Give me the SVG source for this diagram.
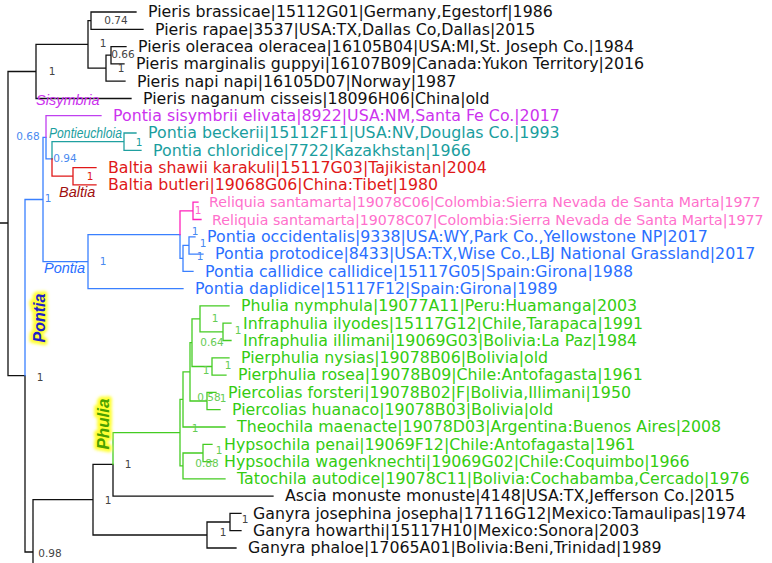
<svg xmlns="http://www.w3.org/2000/svg" width="772" height="563" viewBox="0 0 772 563">
<defs>
<filter id="glow" x="-30%" y="-30%" width="160%" height="160%"><feGaussianBlur stdDeviation="1.8"/></filter>
</defs>
<style>
.l{fill:none;stroke-width:1.3;stroke-linecap:square}
.k{stroke:#111}.b{stroke:#3a80ff}.m{stroke:#c040f0}.t{stroke:#20a0a0}.r{stroke:#e01818}.p{stroke:#ff22bb}.g{stroke:#44cc22}
.tx{font-family:"DejaVu Sans",Verdana,sans-serif;font-size:15.8px}
.rq{font-family:"DejaVu Sans",Verdana,sans-serif;font-size:14.2px;fill:#ff70cc}
.s{font-family:"DejaVu Sans",Verdana,sans-serif;font-size:10.5px;text-anchor:middle}
.cl{font-family:"Liberation Sans",Arial,sans-serif;font-style:italic}
.tk{fill:#111}.tb{fill:#2a6fff}.tm{fill:#cc33ee}.tt{fill:#1a9e9e}.tr{fill:#e01818}.tg{fill:#33cc11}
.sk{fill:#444}.sb{fill:#4a8af0}.sg{fill:#66cc55}.st{fill:#20a0a0}.sr{fill:#e01818}.sp{fill:#ff66cc}
.halo{stroke:#ffff30;stroke-width:6;stroke-linejoin:round;filter:url(#glow)}
</style>
<g id="connectors">
<path class="l k" d="M0 223H8M8 71.5V375.7M8 71.5H36M36 44.4V98.5M36 98.5H131M36 44.4H88M88 20.6V68.2M88 20.6H91M91 12V29.3M91 12H136M91 29.3H143M88 68.2H106M106 55.2V81.2M106 81.2H125M106 55.2H111M111 46.6V63.9M111 46.6H126M111 63.9H124M8 375.7H25M25 375.7V552M25 552H33M33 499.7V565M33 499.7H93M93 464.4V535M93 464.4H113M113 464.4V496.1M113 496.1H273M93 535H207M207 522V548M207 548H236M207 522H230M230 513.4V530.7M230 513.4H241M230 530.7H241"/>
<path class="l b" d="M25 199.5V375.7M25 199.5H43M43 137.3V261.6M43 137.3H46M46 137.3V158.9M46 158.9H52M43 261.6H88M88 234.6V288.6M88 288.6H183M88 234.6H180M180 234.6V258.4M180 258.4H183M183 245.4V271.4M183 271.4H193M183 245.4H189M189 236.8V254.1M189 236.8H195M189 254.1H203"/>
<path class="l m" d="M46 115.7V137.3M46 115.7H101"/>
<path class="l t" d="M52 141.6V158.9M52 141.6H124M124 133V150.3M124 133H136M124 150.3H141"/>
<path class="l r" d="M52 158.9V176.2M52 176.2H73M73 167.6V184.9M73 167.6H96M73 184.9H96"/>
<path class="l p" d="M180 210.8V234.6M180 210.8H193M193 202.2V219.5M193 202.2H198M193 219.5H201"/>
<path class="l g" d="M113 432.7V464.4M113 432.7H180M180 399.4V465.9M180 399.4H183M183 371.9V427M183 427H225M183 371.9H190M190 342.7V401M190 401H207M207 392.4V409.7M207 392.4H216M207 409.7H220M190 342.7H192M192 318.9V366.5M192 366.5H212M212 357.8V375.1M212 357.8H229M212 375.1H226M192 318.9H200M200 305.9V331.9M200 305.9H229M200 331.9H223M223 323.2V340.5M223 323.2H231M223 340.5H231M180 465.9H183M183 453V478.8M183 478.8H225M183 453H203M203 444.3V461.6M203 444.3H212M203 461.6H212"/>
</g>
<g id="clade-labels">
<text class="cl tm" x="36" y="105" font-size="14.5">Sisymbria</text>
<text class="cl tt" x="49" y="137.5" font-size="14.5" textLength="73" lengthAdjust="spacingAndGlyphs">Pontieuchloia</text>
<text class="cl" x="59" y="197" font-size="14.5" fill="#a01010">Baltia</text>
<text class="cl tb" x="44" y="273" font-size="14.5">Pontia</text>
<g transform="translate(44.5 318) rotate(-90)"><text class="cl halo" text-anchor="middle" font-size="16" font-weight="bold">Pontia</text><text class="cl" text-anchor="middle" font-size="16" font-weight="bold" fill="#2020c8">Pontia</text></g>
<g transform="translate(109 424) rotate(-90)"><text class="cl halo" text-anchor="middle" font-size="17" font-weight="bold">Phulia</text><text class="cl" text-anchor="middle" font-size="17" font-weight="bold" fill="#4aa000">Phulia</text></g>
</g>
<g id="support">
<text class="s sk" x="116" y="23.5">0.74</text>
<text class="s sk" x="103" y="46.5">1</text>
<text class="s sk" x="123" y="57.5">0.66</text>
<text class="s sk" x="121" y="71.5">1</text>
<text class="s sk" x="52" y="74.5">1</text>
<text class="s sk" x="40" y="380.5">1</text>
<text class="s sk" x="128" y="467.5">1</text>
<text class="s sk" x="108" y="503.5">1</text>
<text class="s sk" x="245" y="522.5">1</text>
<text class="s sk" x="223" y="535.5">1</text>
<text class="s sk" x="50" y="556.5">0.98</text>
<text class="s sb" x="28" y="139.5">0.68</text>
<text class="s sb" x="65" y="161.5">0.94</text>
<text class="s sb" x="48" y="201.5">1</text>
<text class="s sb" x="103" y="264.5">1</text>
<text class="s sb" x="195" y="234.5">1</text>
<text class="s sb" x="203" y="246.5">1</text>
<text class="s sb" x="200" y="259.5">1</text>
<text class="s st" x="139" y="145.5">1</text>
<text class="s sr" x="90" y="179.5">1</text>
<text class="s sp" x="198" y="214">1</text>
<text class="s sg" x="215" y="321.5">1</text>
<text class="s sg" x="238" y="333.5">1</text>
<text class="s sg" x="212" y="345.5">0.64</text>
<text class="s sg" x="206" y="373.5">1</text>
<text class="s sg" x="228" y="368.5">1</text>
<text class="s sg" x="209" y="400.5">0.58</text>
<text class="s sg" x="223" y="401.5">1</text>
<text class="s sg" x="195" y="431.5">1</text>
<text class="s sg" x="219" y="453.5">1</text>
<text class="s sg" x="207" y="466.5">0.88</text>
</g>
<g id="leaf-pieris-brassicae"><text class="tx tk" x="148" y="17.3">Pieris brassicae|15112G01|Germany,Egestorf|1986</text></g>
<g id="leaf-pieris-rapae"><text class="tx tk" x="155" y="34.6">Pieris rapae|3537|USA:TX,Dallas Co,Dallas|2015</text></g>
<g id="leaf-pieris-oleracea"><text class="tx tk" x="138" y="51.9">Pieris oleracea oleracea|16105B04|USA:MI,St. Joseph Co.|1984</text></g>
<g id="leaf-pieris-marginalis"><text class="tx tk" x="136" y="69.2">Pieris marginalis guppyi|16107B09|Canada:Yukon Territory|2016</text></g>
<g id="leaf-pieris-napi"><text class="tx tk" x="137" y="86.5">Pieris napi napi|16105D07|Norway|1987</text></g>
<g id="leaf-pieris-naganum"><text class="tx tk" x="143" y="103.8">Pieris naganum cisseis|18096H06|China|old</text></g>
<g id="leaf-pontia-sisymbrii"><text class="tx tm" x="113" y="121">Pontia sisymbrii elivata|8922|USA:NM,Santa Fe Co.|2017</text></g>
<g id="leaf-pontia-beckerii"><text class="tx tt" x="148" y="138.3">Pontia beckerii|15112F11|USA:NV,Douglas Co.|1993</text></g>
<g id="leaf-pontia-chloridice"><text class="tx tt" x="153" y="155.6">Pontia chloridice|7722|Kazakhstan|1966</text></g>
<g id="leaf-baltia-shawii"><text class="tx tr" x="108" y="172.9">Baltia shawii karakuli|15117G03|Tajikistan|2004</text></g>
<g id="leaf-baltia-butleri"><text class="tx tr" x="108" y="190.2">Baltia butleri|19068G06|China:Tibet|1980</text></g>
<g id="leaf-reliquia-c06"><text class="rq" x="209" y="207.2">Reliquia santamarta|19078C06|Colombia:Sierra Nevada de Santa Marta|1977</text></g>
<g id="leaf-reliquia-c07"><text class="rq" x="212" y="224.5">Reliquia santamarta|19078C07|Colombia:Sierra Nevada de Santa Marta|1977</text></g>
<g id="leaf-pontia-occidentalis"><text class="tx tb" x="207" y="242.1">Pontia occidentalis|9338|USA:WY,Park Co.,Yellowstone NP|2017</text></g>
<g id="leaf-pontia-protodice"><text class="tx tb" x="215" y="259.4">Pontia protodice|8433|USA:TX,Wise Co.,LBJ National Grassland|2017</text></g>
<g id="leaf-pontia-callidice"><text class="tx tb" x="205" y="276.7">Pontia callidice callidice|15117G05|Spain:Girona|1988</text></g>
<g id="leaf-pontia-daplidice"><text class="tx tb" x="195" y="293.9">Pontia daplidice|15117F12|Spain:Girona|1989</text></g>
<g id="leaf-phulia-nymphula"><text class="tx tg" x="241" y="311.2">Phulia nymphula|19077A11|Peru:Huamanga|2003</text></g>
<g id="leaf-infraphulia-ilyodes"><text class="tx tg" x="243" y="328.5">Infraphulia ilyodes|15117G12|Chile,Tarapaca|1991</text></g>
<g id="leaf-infraphulia-illimani"><text class="tx tg" x="243" y="345.8">Infraphulia illimani|19069G03|Bolivia:La Paz|1984</text></g>
<g id="leaf-pierphulia-nysias"><text class="tx tg" x="241" y="363.1">Pierphulia nysias|19078B06|Bolivia|old</text></g>
<g id="leaf-pierphulia-rosea"><text class="tx tg" x="238" y="380.4">Pierphulia rosea|19078B09|Chile:Antofagasta|1961</text></g>
<g id="leaf-piercolias-forsteri"><text class="tx tg" x="228" y="397.7">Piercolias forsteri|19078B02|F|Bolivia,Illimani|1950</text></g>
<g id="leaf-piercolias-huanaco"><text class="tx tg" x="232" y="415">Piercolias huanaco|19078B03|Bolivia|old</text></g>
<g id="leaf-theochila-maenacte"><text class="tx tg" x="237" y="432.3">Theochila maenacte|19078D03|Argentina:Buenos Aires|2008</text></g>
<g id="leaf-hypsochila-penai"><text class="tx tg" x="224" y="449.6">Hypsochila penai|19069F12|Chile:Antofagasta|1961</text></g>
<g id="leaf-hypsochila-wagenknechti"><text class="tx tg" x="224" y="466.9">Hypsochila wagenknechti|19069G02|Chile:Coquimbo|1966</text></g>
<g id="leaf-tatochila-autodice"><text class="tx tg" x="237" y="484.1">Tatochila autodice|19078C11|Bolivia:Cochabamba,Cercado|1976</text></g>
<g id="leaf-ascia-monuste"><text class="tx tk" x="285" y="501.4">Ascia monuste monuste|4148|USA:TX,Jefferson Co.|2015</text></g>
<g id="leaf-ganyra-josephina"><text class="tx tk" x="253" y="518.7">Ganyra josephina josepha|17116G12|Mexico:Tamaulipas|1974</text></g>
<g id="leaf-ganyra-howarthi"><text class="tx tk" x="253" y="536">Ganyra howarthi|15117H10|Mexico:Sonora|2003</text></g>
<g id="leaf-ganyra-phaloe"><text class="tx tk" x="248" y="553.3">Ganyra phaloe|17065A01|Bolivia:Beni,Trinidad|1989</text></g>
</svg>
